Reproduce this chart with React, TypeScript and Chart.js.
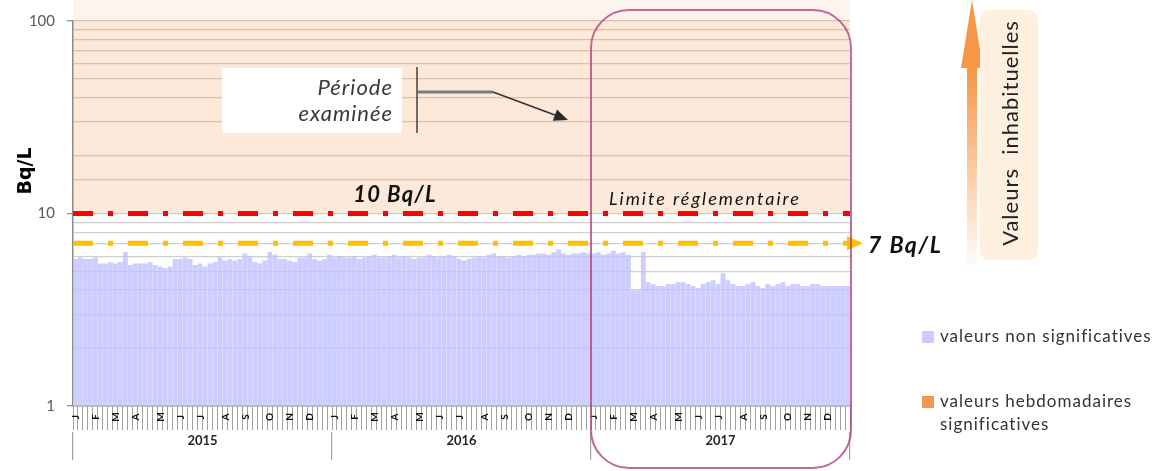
import React, { useEffect, useRef } from 'react';
import { Chart, registerables } from 'chart.js';

Chart.register(...registerables);

const FONT = 'Lato, "Open Sans", sans-serif';

const years = ['2015', '2016', '2017'];
const monthLetters = ['J', 'F', 'M', 'A', 'M', 'J', 'J', 'A', 'S', 'O', 'N', 'D'];
const monthStartWeek = [0, 4, 8, 12, 17, 21, 25, 30, 34, 39, 43, 47];

const values2015 = [5.8, 5.9, 5.8, 5.8, 5.9, 5.5, 5.5, 5.6, 5.5, 5.6, 6.3, 5.4, 5.5, 5.5, 5.5, 5.6, 5.4, 5.3, 5.2, 5.3, 5.8, 5.8, 5.9, 5.8, 5.4, 5.5, 5.3, 5.5, 5.6, 5.9, 5.7, 5.8, 5.7, 5.8, 6.2, 6.0, 5.6, 5.5, 5.7, 6.3, 6.1, 5.8, 5.8, 5.7, 5.6, 5.9, 5.9, 6.2, 5.8, 5.7, 5.8, 6.1];
const values2016 = [5.9, 6.0, 5.9, 5.9, 6.0, 5.8, 5.9, 6.0, 6.1, 5.9, 5.9, 6.0, 6.1, 5.9, 6.0, 5.9, 5.8, 5.9, 5.9, 6.1, 6.0, 5.9, 6.0, 6.1, 6.0, 5.8, 5.7, 5.8, 5.9, 6.0, 5.9, 6.1, 6.2, 6.0, 6.0, 5.9, 6.0, 6.1, 6.0, 6.1, 6.1, 6.2, 6.2, 6.1, 6.3, 6.5, 6.2, 6.1, 6.2, 6.2, 6.3, 6.2];
const values2017 = [6.2, 6.3, 6.1, 6.2, 6.4, 6.2, 6.3, 6.1, 4.0, 4.0, 6.3, 4.4, 4.3, 4.2, 4.2, 4.3, 4.3, 4.4, 4.4, 4.3, 4.2, 4.1, 4.3, 4.4, 4.5, 4.3, 4.9, 4.5, 4.3, 4.2, 4.2, 4.3, 4.4, 4.2, 4.1, 4.3, 4.2, 4.3, 4.4, 4.2, 4.3, 4.3, 4.2, 4.2, 4.3, 4.3, 4.2, 4.2, 4.2, 4.2, 4.2, 4.2];

const limitValue = 10;
const thresholdValue = 7;
const yTickValues = [1, 10, 100];
const examinedYearIndex = 2;

const legendLabels = [['valeurs non significatives'], ['valeurs hebdomadaires', 'significatives']];
const legendColors = ['#ccccff', '#f79646'];

const weeksPerYear = 52;
const weekLabels: string[] = [];
years.forEach(() => {
  for (let w = 0; w < weeksPerYear; w++) {
    const m = monthStartWeek.indexOf(w);
    weekLabels.push(m >= 0 ? monthLetters[m] : '');
  }
});
const allValues = [...values2015, ...values2016, ...values2017];

function roundRect(ctx: CanvasRenderingContext2D, x: number, y: number, w: number, h: number, r: number) {
  ctx.beginPath();
  ctx.moveTo(x + r, y);
  ctx.lineTo(x + w - r, y);
  ctx.arcTo(x + w, y, x + w, y + r, r);
  ctx.lineTo(x + w, y + h - r);
  ctx.arcTo(x + w, y + h, x + w - r, y + h, r);
  ctx.lineTo(x + r, y + h);
  ctx.arcTo(x, y + h, x, y + h - r, r);
  ctx.lineTo(x, y + r);
  ctx.arcTo(x, y, x + r, y, r);
  ctx.closePath();
}

function spaced(ctx: any, px: number) {
  if ('letterSpacing' in ctx) ctx.letterSpacing = `${px}px`;
}

const decorPlugin = {
  id: 'decor',
  beforeDraw(chart: any) {
    const { ctx, chartArea } = chart;
    const ys = chart.scales.y;
    const y10 = ys.getPixelForValue(limitValue);
    ctx.save();
    ctx.fillStyle = '#fef4ee';
    ctx.fillRect(chartArea.left, 0, chartArea.right - chartArea.left, chartArea.top);
    ctx.fillStyle = '#fde9d9';
    ctx.fillRect(chartArea.left, chartArea.top, chartArea.right - chartArea.left, y10 - chartArea.top);
    ctx.restore();
  },
  afterDraw(chart: any) {
    const { ctx, chartArea } = chart;
    const ys = chart.scales.y;
    const xs = chart.scales.x;
    const L = chartArea.left;
    const R = chartArea.right;
    const y10 = ys.getPixelForValue(limitValue);
    const y7 = ys.getPixelForValue(thresholdValue);
    ctx.save();

    // month letters (rotated) on the week axis
    ctx.fillStyle = '#111';
    ctx.font = `bold 10px ${FONT}`;
    ctx.textAlign = 'center';
    ctx.textBaseline = 'middle';
    const labels: string[] = chart.data.labels;
    labels.forEach((lab, i) => {
      if (!lab) return;
      const x = xs.getPixelForValue(i);
      ctx.save();
      ctx.translate(x + 0.5, xs.top + 11);
      ctx.rotate(-Math.PI / 2);
      ctx.fillText(lab, 0, 0);
      ctx.restore();
    });

    // red limit line
    ctx.lineCap = 'butt';
    ctx.setLineDash([20, 15, 5, 15]);
    ctx.lineWidth = 5;
    ctx.strokeStyle = '#ff0000';
    ctx.beginPath();
    ctx.moveTo(L, y10);
    ctx.lineTo(R, y10);
    ctx.stroke();

    // yellow threshold line + arrow
    ctx.strokeStyle = '#ffc000';
    ctx.beginPath();
    ctx.moveTo(L, y7);
    ctx.lineTo(R - 3, y7);
    ctx.stroke();
    ctx.setLineDash([]);
    ctx.fillStyle = '#ffc000';
    ctx.beginPath();
    ctx.moveTo(R - 3, y7 - 7);
    ctx.lineTo(R + 13, y7);
    ctx.lineTo(R - 3, y7 + 7);
    ctx.closePath();
    ctx.fill();

    // labels of lines
    ctx.fillStyle = '#111';
    ctx.textBaseline = 'middle';
    ctx.textAlign = 'center';
    ctx.font = `italic bold 22px ${FONT}`;
    spaced(ctx, 1.2);
    ctx.fillText('10 Bq/L', 395, 195);
    ctx.font = `italic 18px ${FONT}`;
    spaced(ctx, 2);
    ctx.fillText('Limite réglementaire', 705, 199);
    ctx.textAlign = 'left';
    ctx.font = `italic bold 23px ${FONT}`;
    spaced(ctx, 1.5);
    ctx.fillText('7 Bq/L', 868, 246);
    spaced(ctx, 0);

    // period box (rounded)
    const step = xs.getPixelForValue(1) - xs.getPixelForValue(0);
    const px0 = xs.getPixelForValue(examinedYearIndex * weeksPerYear) - step / 2;
    ctx.strokeStyle = 'rgba(175,70,125,0.8)';
    ctx.lineWidth = 2;
    roundRect(ctx, px0, 10, R + 1 - px0, 458, 38);
    ctx.stroke();

    // Période examinée
    ctx.fillStyle = '#ffffff';
    ctx.fillRect(222, 68, 180, 65);
    ctx.fillStyle = '#3a3a3a';
    ctx.textAlign = 'right';
    ctx.font = `italic 22px ${FONT}`;
    spaced(ctx, 1);
    ctx.fillText('Période', 393, 88);
    ctx.fillText('examinée', 393, 114);
    spaced(ctx, 0);
    ctx.strokeStyle = '#404040';
    ctx.lineWidth = 1.5;
    ctx.beginPath();
    ctx.moveTo(417, 67);
    ctx.lineTo(417, 133);
    ctx.stroke();
    ctx.strokeStyle = '#7a7a7a';
    ctx.lineWidth = 3;
    ctx.beginPath();
    ctx.moveTo(418, 92);
    ctx.lineTo(493, 92);
    ctx.stroke();
    const tipX = 568, tipY = 120;
    const dx = tipX - 493, dy = tipY - 92;
    const len = Math.hypot(dx, dy);
    const ux = dx / len, uy = dy / len;
    const bx = tipX - ux * 14, by = tipY - uy * 14;
    ctx.strokeStyle = '#333';
    ctx.lineWidth = 1.6;
    ctx.beginPath();
    ctx.moveTo(493, 92);
    ctx.lineTo(bx, by);
    ctx.stroke();
    ctx.fillStyle = '#2a2a2a';
    ctx.beginPath();
    ctx.moveTo(tipX, tipY);
    ctx.lineTo(bx - uy * 6, by + ux * 6);
    ctx.lineTo(bx + uy * 6, by - ux * 6);
    ctx.closePath();
    ctx.fill();

    // orange gradient arrow
    const grad = ctx.createLinearGradient(0, 272, 0, 68);
    grad.addColorStop(0, 'rgba(247,150,70,0)');
    grad.addColorStop(1, 'rgba(247,150,70,1)');
    ctx.fillStyle = grad;
    ctx.fillRect(967, 66, 10, 206);
    ctx.fillStyle = '#f79646';
    ctx.beginPath();
    ctx.moveTo(961, 68);
    ctx.lineTo(972, 0);
    ctx.lineTo(983, 68);
    ctx.closePath();
    ctx.fill();

    // beige box with text
    ctx.fillStyle = '#fdf0de';
    roundRect(ctx, 980, 10, 58, 250, 9);
    ctx.fill();
    ctx.save();
    ctx.translate(1011, 133);
    ctx.rotate(-Math.PI / 2);
    ctx.textAlign = 'center';
    ctx.fillStyle = '#222';
    ctx.font = `22px ${FONT}`;
    spaced(ctx, 1);
    ctx.fillText('Valeurs  inhabituelles', 0, 0);
    spaced(ctx, 0);
    ctx.restore();

    // y title
    ctx.save();
    ctx.translate(26, 171);
    ctx.rotate(-Math.PI / 2);
    ctx.textAlign = 'center';
    ctx.fillStyle = '#000';
    ctx.font = `bold 19px "DejaVu Sans", sans-serif`;
    ctx.fillText('Bq/L', 0, 0);
    ctx.restore();

    // legend
    ctx.textAlign = 'left';
    ctx.font = `17px ${FONT}`;
    spaced(ctx, 1);
    const legendY = [337, 402];
    legendLabels.forEach((lines, i) => {
      ctx.fillStyle = legendColors[i];
      ctx.fillRect(922, legendY[i] - 6, 12, 12);
      ctx.fillStyle = '#333';
      lines.forEach((t, j) => ctx.fillText(t, 940, legendY[i] + j * 23));
    });
    spaced(ctx, 0);

    ctx.restore();
  },
};

export default function App() {
  const ref = useRef<HTMLCanvasElement | null>(null);
  useEffect(() => {
    if (!ref.current) return;
    const chart = new Chart(ref.current, {
      type: 'bar',
      data: {
        labels: weekLabels,
        datasets: [
          {
            label: legendLabels[0][0],
            data: allValues,
            xAxisID: 'x',
            backgroundColor: 'rgba(192,192,255,0.8)',
            borderWidth: 0,
            barPercentage: 0.97,
            categoryPercentage: 1,
          },
        ],
      },
      options: {
        animation: false,
        responsive: true,
        maintainAspectRatio: false,
        layout: { padding: { top: 21, right: 311, bottom: 0, left: 0 } },
        plugins: { legend: { display: false }, tooltip: { enabled: false } },
        scales: {
          x: {
            type: 'category',
            weight: 0,
            offset: true,
            grid: { offset: true, drawOnChartArea: false, drawTicks: true, tickLength: 24, color: '#a0a0a0', lineWidth: 1 },
            border: { display: true, color: '#8c8c8c', width: 1.5 },
            ticks: { display: false, autoSkip: false },
            afterFit: (s: any) => { s.height = 26; },
          } as any,
          x2: {
            type: 'category',
            labels: years,
            position: 'bottom',
            weight: 1,
            offset: true,
            grid: { offset: true, drawOnChartArea: false, tickLength: 28, color: '#a0a0a0', lineWidth: 1.2 },
            border: { display: false },
            ticks: { autoSkip: false, maxRotation: 0, padding: -27, color: '#262626', font: { size: 13, weight: 'bold', family: FONT } },
            afterFit: (s: any) => { s.height = 39; },
          } as any,
          y: {
            type: 'logarithmic',
            min: 1,
            max: 100,
            grid: {
              color: (c: any) => (c.tick && c.tick.value > limitValue + 0.01 ? '#d9c3ad' : '#cfcfcf'),
              lineWidth: 1.3,
              tickLength: 6,
              tickColor: (c: any) => (c.tick && yTickValues.some((v) => Math.abs(v - c.tick.value) < 1e-6) ? '#8c8c8c' : 'rgba(0,0,0,0)'),
            },
            border: { color: '#8c8c8c', width: 1.5 },
            ticks: {
              autoSkip: false,
              padding: 12,
              color: '#595959',
              font: { size: 15, family: FONT },
              callback: (v: any) => {
                const n = Number(v);
                return yTickValues.some((t) => Math.abs(t - n) < 1e-6) ? String(Math.round(n)) : '';
              },
            },
            afterFit: (s: any) => { s.width = 73; },
          } as any,
        },
      },
      plugins: [decorPlugin],
    });
    return () => chart.destroy();
  }, []);
  return (
    <div style={{ position: 'absolute', left: 0, top: 0, width: 1161, height: 471 }}>
      <canvas ref={ref} />
    </div>
  );
}
